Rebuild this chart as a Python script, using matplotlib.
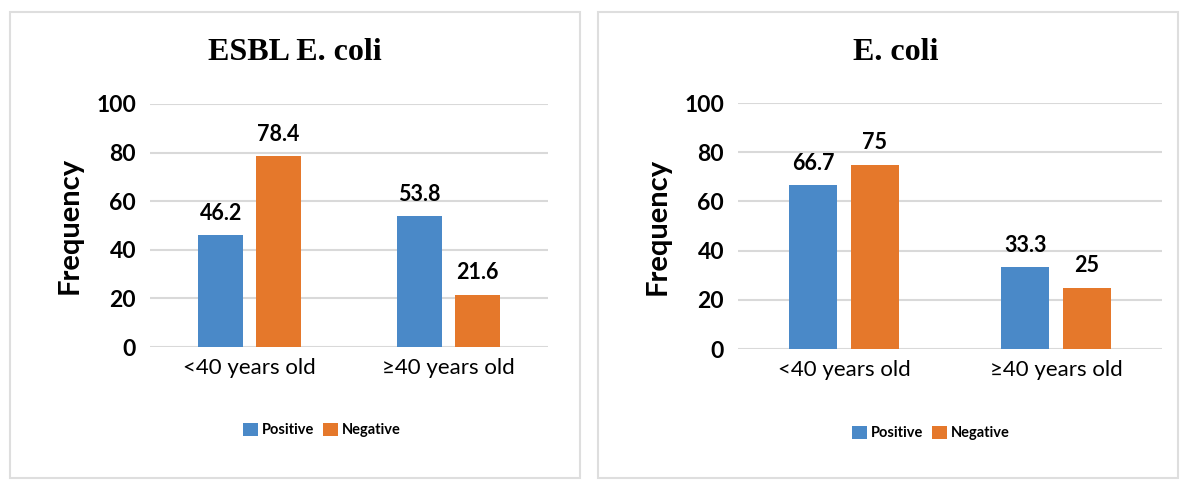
import numpy as np
import matplotlib as mpl
import matplotlib.pyplot as plt
from matplotlib.patches import Rectangle

mpl.rcParams['font.family'] = ['Lato', 'DejaVu Sans']

# Data
categories = ["<40 years old", "\u226540 years old"]
series_names = ["Positive", "Negative"]
esbl_positive = [46.2, 53.8]
esbl_negative = [78.4, 21.6]
ecoli_positive = [66.7, 33.3]
ecoli_negative = [75, 25]
titles = ["ESBL E. coli", "E. coli"]

colors = {"Positive": "#4a89c8", "Negative": "#e5782b"}

fig = plt.figure(figsize=(11.81, 4.8), dpi=100)

# panel boxes (left, bottom, width, height in figure fractions)
panels = [(10 / 1181, 2 / 480, 570 / 1181, 466 / 480),
          (598 / 1181, 2 / 480, 580 / 1181, 466 / 480)]
for p in panels:
    fig.patches.append(Rectangle((p[0], p[1]), p[2], p[3], transform=fig.transFigure,
                                 facecolor="none", edgecolor="#dedede", linewidth=1.5,
                                 zorder=-1))

axes_pos = [(150 / 1181, 133 / 480, 398 / 1181, 243 / 480),
            (738 / 1181, 131 / 480, 424 / 1181, 246 / 480)]
data = [(esbl_positive, esbl_negative), (ecoli_positive, ecoli_negative)]
title_x = [295 / 1181, 896 / 1181]
legend_y = [430 / 480, 433 / 480]
legend_x = [322 / 1181, 931 / 1181]

x = np.arange(len(categories))
width = 0.225
offset = 0.145

for i in range(2):
    ax = fig.add_axes(axes_pos[i])
    pos_vals, neg_vals = data[i]
    b1 = ax.bar(x - offset, pos_vals, width, color=colors["Positive"], label="Positive", zorder=3)
    b2 = ax.bar(x + offset, neg_vals, width, color=colors["Negative"], label="Negative", zorder=3)
    for bars, vals in [(b1, pos_vals), (b2, neg_vals)]:
        for rect, v in zip(bars, vals):
            ax.annotate(f"{v:g}", (rect.get_x() + rect.get_width() / 2, v),
                        xytext=(0, 8), textcoords="offset points",
                        ha="center", va="bottom", fontsize=15.5, fontweight="bold")
    ax.set_xlim(-0.5, 1.5)
    ax.set_ylim(0, 100)
    ax.set_yticks([0, 20, 40, 60, 80, 100])
    ax.set_xticks(x)
    ax.set_xticklabels(categories, fontsize=16)
    for lab in ax.get_yticklabels():
        lab.set_fontsize(16.5)
        lab.set_fontweight("bold")
    ax.tick_params(length=0, axis="y", pad=10)
    ax.tick_params(length=0, axis="x", pad=8)
    ax.grid(axis="y", color="#d9d9d9", linewidth=1.5, zorder=0)
    for s in ax.spines.values():
        s.set_visible(False)
    ax.set_ylabel("Frequency", fontsize=21, fontweight="bold", labelpad=10)
    ax.set_facecolor("none")

    fig.text(title_x[i], 1 - 52 / 480, titles[i], ha="center", va="center",
             fontsize=23, fontweight="bold", family="Liberation Serif")

    fig.legend(handles=[b1, b2], labels=series_names, loc="center",
               bbox_to_anchor=(legend_x[i], 1 - legend_y[i]), ncol=2, frameon=False,
               prop={"weight": "bold", "size": 10.5}, handlelength=1.0, handleheight=1.0,
               handletextpad=0.3, columnspacing=0.6)

fig.savefig("out.png", dpi=100)
